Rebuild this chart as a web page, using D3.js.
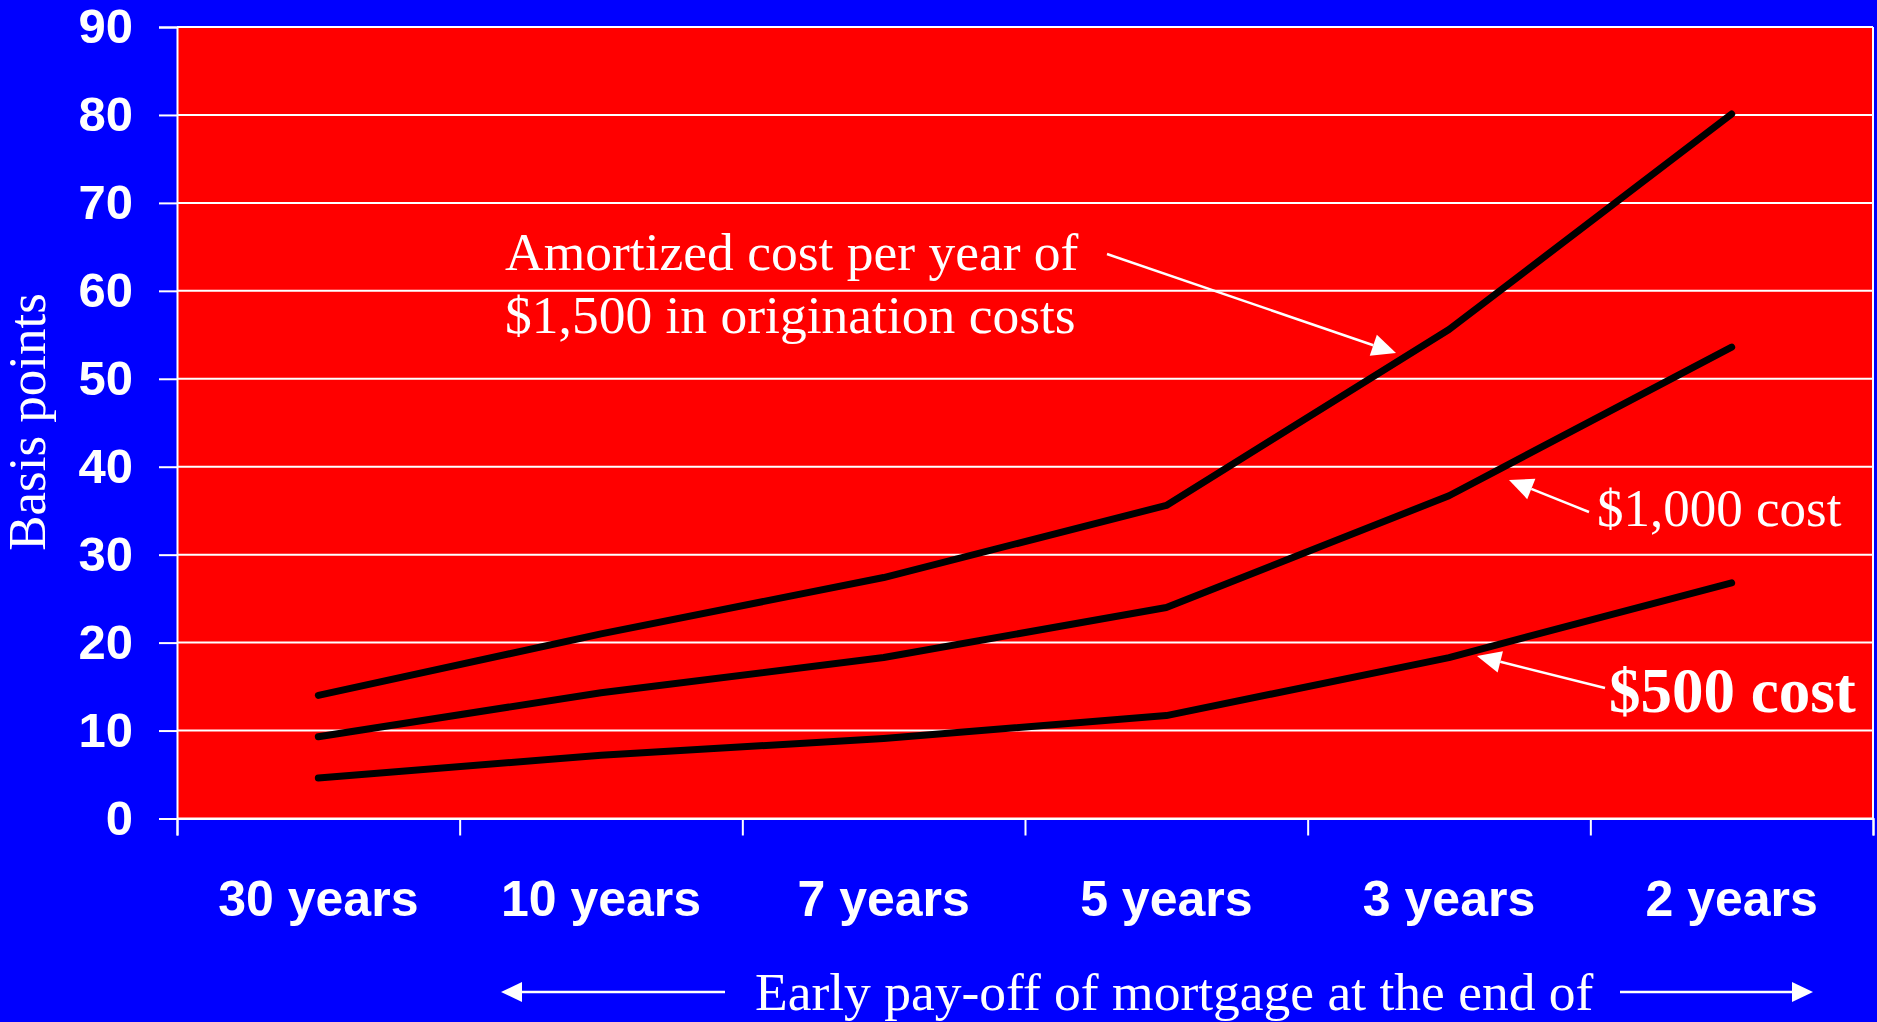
<!DOCTYPE html>
<html>
<head>
<meta charset="utf-8">
<script src="https://cdn.jsdelivr.net/npm/d3@7"></script>
<style>
  html, body { margin: 0; padding: 0; background: #0000ff; overflow: hidden; }
  svg { display: block; }
</style>
</head>
<body>
<div></div>
<script>
// datos (puntos basicos)
var periods = ["30 years", "10 years", "7 years", "5 years", "3 years", "2 years"];
var cost1500 = [14.0, 21.0, 27.4, 35.6, 55.6, 80.1];
var cost1000 = [9.3, 14.3, 18.3, 24.0, 36.7, 53.6];
var cost500 = [4.6, 7.2, 9.1, 11.7, 18.3, 26.8];
var yTicks = [0, 10, 20, 30, 40, 50, 60, 70, 80, 90];

var width = 1877;
var height = 1022;
var plotLeft = 177, plotRight = 1873, plotTop = 27, plotBottom = 818.5;

var svg = d3.select("div")
    .append("svg")
    .attr("width", width)
    .attr("height", height);

svg.append("rect")
    .attr("width", width)
    .attr("height", height)
    .attr("fill", "#0000ff");

var scalex = d3.scaleBand()
    .domain(periods)
    .range([plotLeft, plotRight]);

var scaley = d3.scaleLinear()
    .domain([0, 90])
    .range([plotBottom, plotTop]);

// area del grafico
svg.append("rect")
    .attr("x", plotLeft)
    .attr("y", plotTop)
    .attr("width", plotRight - plotLeft)
    .attr("height", plotBottom - plotTop)
    .attr("fill", "#ff0000");

// lineas de la rejilla
svg.append("g")
    .selectAll("line")
    .data(yTicks)
    .enter()
    .append("line")
    .attr("x1", plotLeft)
    .attr("x2", plotRight)
    .attr("y1", (d) => scaley(d))
    .attr("y2", (d) => scaley(d))
    .attr("stroke", "white")
    .attr("stroke-width", 2);

svg.append("line")
    .attr("x1", plotRight).attr("x2", plotRight)
    .attr("y1", plotTop).attr("y2", plotBottom)
    .attr("stroke", "white").attr("stroke-width", 2);

// eje Y
var Yaxis = d3.axisLeft(scaley)
    .tickValues(yTicks)
    .tickSize(18)
    .tickPadding(26);

var gy = svg.append("g")
    .attr("transform", "translate(" + plotLeft + ",0)")
    .call(Yaxis);
gy.select(".domain").attr("stroke", "white").attr("stroke-width", 2);
gy.selectAll(".tick line").attr("stroke", "white").attr("stroke-width", 2);
gy.selectAll(".tick text")
    .attr("fill", "white")
    .style("font-family", "'Liberation Sans', Arial, sans-serif")
    .style("font-weight", "bold")
    .style("font-size", "49px");

// eje X: marcas en los limites de cada banda
var edges = d3.scaleLinear().domain([0, periods.length]).range([plotLeft, plotRight]);
var Xticks = d3.axisBottom(edges)
    .tickValues(d3.range(periods.length + 1))
    .tickSize(17)
    .tickFormat("");
var gx = svg.append("g")
    .attr("transform", "translate(0," + plotBottom + ")")
    .call(Xticks);
gx.select(".domain").attr("stroke", "white").attr("stroke-width", 2);
gx.selectAll(".tick line").attr("stroke", "white").attr("stroke-width", 2);

var Xlabels = d3.axisBottom(scalex).tickSize(0).tickPadding(62);
var gl = svg.append("g")
    .attr("transform", "translate(0," + plotBottom + ")")
    .call(Xlabels);
gl.select(".domain").remove();
gl.selectAll(".tick text")
    .attr("fill", "white")
    .style("font-family", "'Liberation Sans', Arial, sans-serif")
    .style("font-weight", "bold")
    .style("font-size", "50px");

// series
var line = d3.line()
    .x((d, i) => scalex(periods[i]) + scalex.bandwidth() / 2)
    .y((d) => scaley(d));

[cost1500, cost1000, cost500].forEach((s) => {
    svg.append("path")
        .datum(s)
        .attr("d", line)
        .attr("fill", "none")
        .attr("stroke", "black")
        .attr("stroke-width", 7)
        .attr("stroke-linecap", "round")
        .attr("stroke-linejoin", "round");
});

// flechas blancas
function arrow(x1, y1, x2, y2, len, half) {
    var a = Math.atan2(y2 - y1, x2 - x1);
    var bx = x2 - len * Math.cos(a), by = y2 - len * Math.sin(a);
    svg.append("line")
        .attr("x1", x1).attr("y1", y1)
        .attr("x2", bx).attr("y2", by)
        .attr("stroke", "white").attr("stroke-width", 2.5);
    var px = -Math.sin(a) * half, py = Math.cos(a) * half;
    svg.append("polygon")
        .attr("points", [[x2, y2], [bx + px, by + py], [bx - px, by - py]].join(" "))
        .attr("fill", "white");
}

var serif = "'Liberation Serif', 'Times New Roman', serif";

var note = svg.append("text")
    .attr("fill", "white")
    .style("font-family", serif)
    .style("font-size", "53.5px");
note.append("tspan").attr("x", 505).attr("y", 270).text("Amortized cost per year of");
note.append("tspan").attr("x", 505).attr("y", 333).text("$1,500 in origination costs");
arrow(1107, 254, 1396, 353, 24, 11);

svg.append("text")
    .attr("x", 1597).attr("y", 526)
    .attr("fill", "white")
    .style("font-family", serif)
    .style("font-size", "53px")
    .text("$1,000 cost");
arrow(1589, 512, 1509, 480, 24, 11);

svg.append("text")
    .attr("x", 1609).attr("y", 712)
    .attr("fill", "white")
    .style("font-family", serif)
    .style("font-weight", "bold")
    .style("font-size", "63px")
    .text("$500 cost");
arrow(1605, 688, 1477, 656, 24, 11);

// titulos de los ejes
svg.append("text")
    .attr("transform", "translate(45,422) rotate(-90)")
    .attr("text-anchor", "middle")
    .attr("fill", "white")
    .style("font-family", serif)
    .style("font-size", "53px")
    .text("Basis points");

svg.append("text")
    .attr("x", 755).attr("y", 1010)
    .attr("fill", "white")
    .style("font-family", serif)
    .style("font-size", "53.5px")
    .text("Early pay-off of mortgage at the end of");
arrow(725, 992, 501, 992, 21, 10);
arrow(1620, 992, 1813, 992, 21, 10);
</script>
</body>
</html>
